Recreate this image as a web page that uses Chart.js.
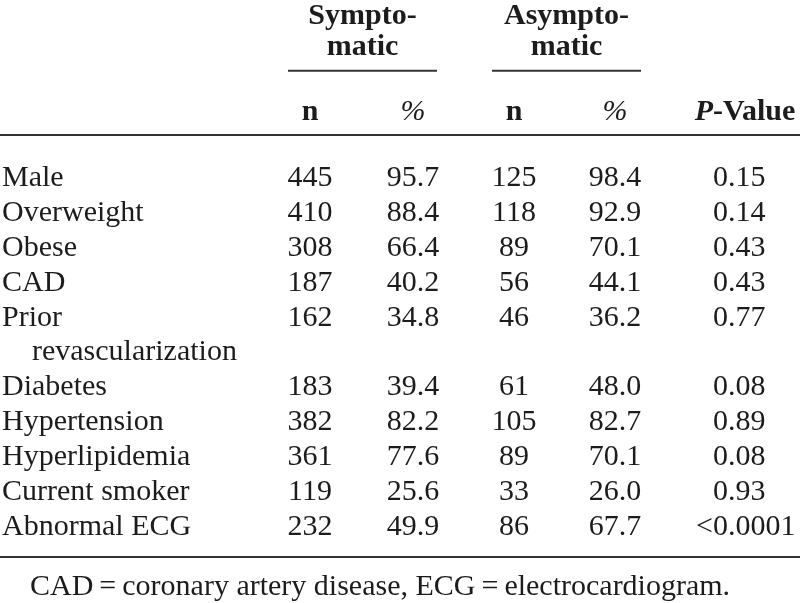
<!DOCTYPE html>
<html>
<head>
<meta charset="utf-8">
<script src="https://cdn.jsdelivr.net/npm/chart.js@4"></script>
<style>
  html, body { margin: 0; padding: 0; background: #fff; }
  #wrap { width: 800px; height: 603px; position: relative; }
</style>
</head>
<body>
<div id="wrap"><canvas id="table"></canvas></div>
<script>
// Table data
const rowLabels = ['Male', 'Overweight', 'Obese', 'CAD', 'Prior\nrevascularization',
  'Diabetes', 'Hypertension', 'Hyperlipidemia', 'Current smoker', 'Abnormal ECG'];
const symN = ['445', '410', '308', '187', '162', '183', '382', '361', '119', '232'];
const symPct = ['95.7', '88.4', '66.4', '40.2', '34.8', '39.4', '82.2', '77.6', '25.6', '49.9'];
const asymN = ['125', '118', '89', '56', '46', '61', '105', '89', '33', '86'];
const asymPct = ['98.4', '92.9', '70.1', '44.1', '36.2', '48.0', '82.7', '70.1', '26.0', '67.7'];
const pValues = ['0.15', '0.14', '0.43', '0.43', '0.77', '0.08', '0.89', '0.08', '0.93', '<0.0001'];
const groupHeaders = [['Sympto-', 'matic'], ['Asympto-', 'matic']];
const subHeaders = ['n', '%', 'n', '%'];
const footnote = 'CAD\u2009=\u2009coronary artery disease, ECG\u2009=\u2009electrocardiogram.';

// Layout (x in page units, y in row units; row k sits on line k)
const colX = { label: 2, indent: 32, symN: 310, symPct: 413, asymN: 514, asymPct: 615, pDot: 728, pHead: 745 };
const groupSpan = [[288, 437], [492, 641]];
const yTop = -5.33, yBottom = 11.95;
const yGroup1 = -4.64, yGroup2 = -3.75, yGroupRule = -3.30;
const ySub = -1.89, yHeadRule = -1.46, yBottomRule = 10.63, yFoot = 11.72;

const FONT = "'Liberation Serif', 'Times New Roman', serif";
const INK = '#1c1c1c';
const RULE = '#333';

// line index for each row (the two-line label pushes later rows down)
const rowLine = [];
let line = 0;
rowLabels.forEach(label => {
  rowLine.push(line);
  line += label.split('\n').length;
});

function column(x, texts, align) {
  return {
    data: rowLine.map(r => ({ x: x, y: r })),
    texts: texts,
    align: align,
    pointRadius: 0,
    showLine: false
  };
}

const datasets = [
  column(colX.label, rowLabels, 'label'),
  column(colX.symN, symN, 'center'),
  column(colX.symPct, symPct, 'center'),
  column(colX.asymN, asymN, 'center'),
  column(colX.asymPct, asymPct, 'center'),
  column(colX.pDot, pValues, 'decimal')
];

const tablePlugin = {
  id: 'tablePlugin',
  afterDatasetsDraw(chart) {
    const ctx = chart.ctx;
    const xs = chart.scales.x;
    const ys = chart.scales.y;
    const px = v => xs.getPixelForValue(v);
    const py = v => ys.getPixelForValue(v);

    ctx.save();
    ctx.fillStyle = INK;
    ctx.textBaseline = 'alphabetic';

    // Body cells
    ctx.font = `30px ${FONT}`;
    chart.data.datasets.forEach((ds, i) => {
      const meta = chart.getDatasetMeta(i);
      meta.data.forEach((pt, j) => {
        const txt = ds.texts[j];
        if (ds.align === 'label') {
          const parts = txt.split('\n');
          ctx.textAlign = 'left';
          ctx.fillText(parts[0], pt.x, pt.y);
          for (let k = 1; k < parts.length; k++) {
            ctx.fillText(parts[k], px(colX.indent), py(rowLine[j] + k));
          }
        } else if (ds.align === 'decimal') {
          const dot = txt.indexOf('.');
          const before = dot >= 0 ? txt.slice(0, dot) : txt;
          ctx.textAlign = 'left';
          ctx.fillText(txt, pt.x - ctx.measureText(before).width, pt.y);
        } else {
          ctx.textAlign = 'center';
          ctx.fillText(txt, pt.x, pt.y);
        }
      });
    });

    // Group headers
    ctx.font = `bold 30px ${FONT}`;
    ctx.textAlign = 'center';
    groupHeaders.forEach((g, i) => {
      const cx = px((groupSpan[i][0] + groupSpan[i][1]) / 2);
      ctx.fillText(g[0], cx, py(yGroup1));
      ctx.fillText(g[1], cx, py(yGroup2));
    });

    // Sub headers
    const subX = [colX.symN, colX.symPct, colX.asymN, colX.asymPct];
    subHeaders.forEach((s, i) => {
      ctx.font = s === '%' ? `italic 30px ${FONT}` : `bold 30px ${FONT}`;
      ctx.fillText(s, px(subX[i]), py(ySub));
    });

    // P-Value header: italic P + bold "-Value"
    ctx.textAlign = 'left';
    ctx.font = `italic bold 30px ${FONT}`;
    const wP = ctx.measureText('P').width;
    ctx.font = `bold 30px ${FONT}`;
    const wRest = ctx.measureText('-Value').width;
    const startX = px(colX.pHead) - (wP + wRest) / 2;
    ctx.font = `italic bold 30px ${FONT}`;
    ctx.fillText('P', startX, py(ySub));
    ctx.font = `bold 30px ${FONT}`;
    ctx.fillText('-Value', startX + wP, py(ySub));

    // Footnote
    ctx.font = `30px ${FONT}`;
    ctx.fillText(footnote, px(30), py(yFoot));

    // Rules
    ctx.strokeStyle = RULE;
    ctx.lineWidth = 2;
    const hline = (x0, x1, y) => {
      ctx.beginPath();
      ctx.moveTo(px(x0), py(y));
      ctx.lineTo(px(x1), py(y));
      ctx.stroke();
    };
    groupSpan.forEach(s => hline(s[0], s[1], yGroupRule));
    hline(0, 800, yHeadRule);
    hline(0, 800, yBottomRule);
    ctx.restore();
  }
};

new Chart(document.getElementById('table'), {
  type: 'scatter',
  data: { datasets: datasets },
  options: {
    responsive: true,
    maintainAspectRatio: false,
    animation: false,
    events: [],
    layout: { padding: 0 },
    plugins: { legend: { display: false }, tooltip: { enabled: false } },
    scales: {
      x: { type: 'linear', min: 0, max: 800, display: false },
      y: { type: 'linear', min: yTop, max: yBottom, reverse: true, display: false }
    }
  },
  plugins: [tablePlugin]
});
</script>
</body>
</html>
